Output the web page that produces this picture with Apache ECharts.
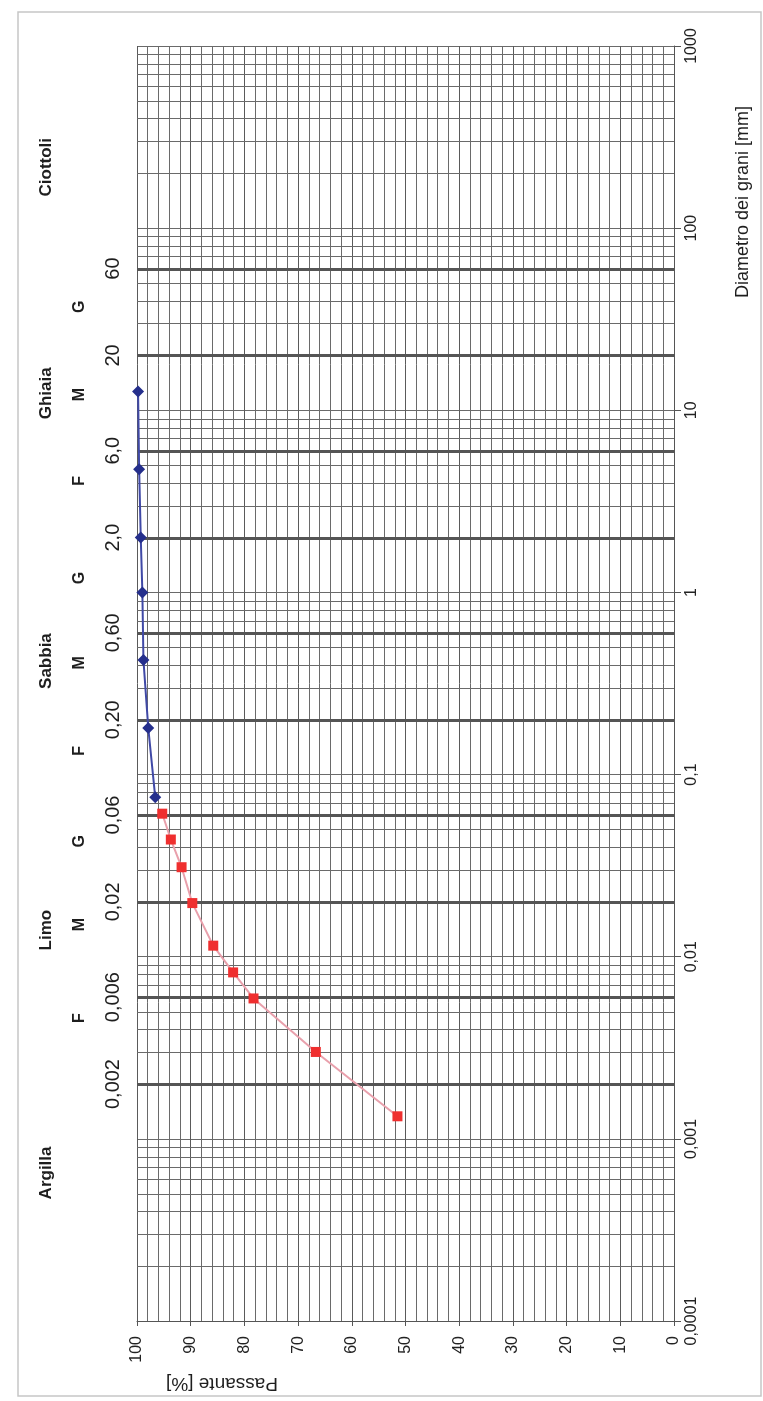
<!DOCTYPE html>
<html>
<head>
<meta charset="utf-8">
<script src="https://cdn.jsdelivr.net/npm/echarts@6/dist/echarts.min.js"></script>
<style>
  html, body { margin: 0; padding: 0; background: #ffffff; }
  #chart { width: 763px; height: 1401px; }
</style>
</head>
<body>
<div id="chart"></div>
<script>
// Curva granulometrica: setacciatura (blu) e sedimentazione (rosso)
const sieveDiam = [12.7, 4.75, 2.0, 1.0, 0.425, 0.18, 0.075];
const sievePass = [99.8, 99.6, 99.3, 99.0, 98.8, 97.9, 96.6];

const hydroDiam = [0.061, 0.044, 0.031, 0.0197, 0.0115, 0.0082, 0.0059, 0.0030, 0.00133];
const hydroPass = [95.3, 93.7, 91.7, 89.7, 85.8, 82.1, 78.3, 66.7, 51.5];

// Limiti delle classi granulometriche (mm) e relative etichette
const boundaryValues = [0.002, 0.006, 0.02, 0.06, 0.2, 0.6, 2, 6, 20, 60];
const boundaryLabels = ['0,002', '0,006', '0,02', '0,06', '0,20', '0,60', '2,0', '6,0', '20', '60'];

// Sottoclassi (Fine / Media / Grossa) con diametro di riferimento
const subLabels = ['F', 'M', 'G', 'F', 'M', 'G', 'F', 'M', 'G'];
const subAnchor = [0.0046, 0.015, 0.043, 0.135, 0.41, 1.2, 4.1, 12.2, 37];

// Classi principali
const classNames = ['Argilla', 'Limo', 'Sabbia', 'Ghiaia', 'Ciottoli'];
const classAnchor = [0.00065, 0.014, 0.42, 12.4, 216];

// Griglia logaritmica secondaria: 2..9 per ogni decade
const minorGrid = [];
for (let k = -4; k <= 2; k++) {
  for (let m = 2; m <= 9; m++) minorGrid.push(Number((m * Math.pow(10, k)).toPrecision(3)));
}

const FONT = "'Liberation Sans', Arial, sans-serif";
const GRID_COLOR = '#6a6a6a';

function fmtNum(v) {
  return String(Number(v.toPrecision(6))).replace('.', ',');
}

function lineItem(api, width, color) {
  const a = api.coord([100, api.value(1)]);
  const b = api.coord([0, api.value(1)]);
  const y = width % 2 ? Math.round(a[1]) + 0.5 : Math.round(a[1]);
  return {
    type: 'line',
    shape: { x1: a[0], y1: y, x2: b[0], y2: y },
    style: { stroke: color, lineWidth: width }
  };
}

function textSeries(labels, anchors, dx, font) {
  return {
    type: 'custom',
    silent: true,
    z: 5,
    clip: false,
    data: anchors.map(v => [100, v]),
    renderItem: function (params, api) {
      const c = api.coord([100, api.value(1)]);
      return {
        type: 'text',
        x: c[0] + dx,
        y: c[1],
        rotation: Math.PI / 2,
        style: {
          text: labels[params.dataIndex],
          font: font,
          fill: '#1e1e1e',
          align: 'center',
          verticalAlign: 'middle'
        }
      };
    }
  };
}

const chart = echarts.init(document.getElementById('chart'), null, { renderer: 'canvas' });

chart.setOption({
  animation: false,
  backgroundColor: '#ffffff',
  grid: { left: 137, right: 89, top: 46, bottom: 80, containLabel: false },
  xAxis: {
    type: 'value',
    min: 0,
    max: 100,
    interval: 10,
    inverse: true,
    position: 'bottom',
    axisLine: { show: true, onZero: false, lineStyle: { color: '#555', width: 1 } },
    axisTick: { show: true, length: 5, lineStyle: { color: '#555' } },
    minorTick: { show: false, splitNumber: 5 },
    minorSplitLine: { show: true, lineStyle: { color: GRID_COLOR, width: 1 } },
    splitLine: { show: true, lineStyle: { color: '#5a5a5a', width: 1 } },
    axisLabel: {
      rotate: 90,
      margin: 15,
      fontFamily: FONT,
      fontSize: 16,
      color: '#222'
    }
  },
  yAxis: {
    type: 'log',
    logBase: 10,
    min: 0.0001,
    max: 1000,
    position: 'right',
    axisLine: { show: true, lineStyle: { color: '#555', width: 1 } },
    axisTick: { show: true, length: 7, lineStyle: { color: '#555' } },
    splitLine: { show: true, lineStyle: { color: GRID_COLOR, width: 1 } },
    axisLabel: {
      rotate: 90,
      margin: 10,
      fontFamily: FONT,
      fontSize: 16,
      color: '#222',
      formatter: fmtNum
    }
  },
  graphic: [
    {
      type: 'rect',
      silent: true,
      shape: { x: 18, y: 12, width: 743, height: 1384 },
      style: { fill: 'none', stroke: '#c6c6c6', lineWidth: 1.5 }
    },
    {
      type: 'text',
      x: 743,
      y: 202,
      rotation: Math.PI / 2,
      style: {
        text: 'Diametro dei grani [mm]',
        font: "18px " + FONT,
        fill: '#1e1e1e',
        align: 'center',
        verticalAlign: 'middle'
      }
    },
    {
      type: 'text',
      x: 222,
      y: 1383,
      rotation: Math.PI,
      style: {
        text: 'Passante [%]',
        font: "19px " + FONT,
        fill: '#1e1e1e',
        align: 'center',
        verticalAlign: 'middle'
      }
    }
  ],
  series: [
    {
      name: 'griglia',
      type: 'custom',
      silent: true,
      z: 1,
      data: minorGrid.map(v => [100, v]),
      renderItem: function (params, api) { return lineItem(api, 1, GRID_COLOR); }
    },
    {
      name: 'limiti',
      type: 'custom',
      silent: true,
      z: 1,
      data: boundaryValues.map(v => [100, v]),
      renderItem: function (params, api) { return lineItem(api, 3, '#555555'); }
    },
    textSeries(boundaryLabels, boundaryValues, -24, "20px " + FONT),
    textSeries(subLabels, subAnchor, -57, "bold 16px " + FONT),
    textSeries(classNames, classAnchor, -91, "bold 17px " + FONT),
    {
      name: 'Setacciatura',
      type: 'line',
      z: 4,
      data: sieveDiam.map((d, i) => [sievePass[i], d]),
      symbol: 'diamond',
      symbolSize: 12,
      itemStyle: { color: '#252f8c' },
      lineStyle: { color: '#4049a6', width: 2 }
    },
    {
      name: 'Sedimentazione',
      type: 'line',
      z: 4,
      data: hydroDiam.map((d, i) => [hydroPass[i], d]),
      symbol: 'rect',
      symbolSize: 10,
      itemStyle: { color: '#ef2f2f' },
      lineStyle: { color: '#e9a0ac', width: 2 }
    }
  ]
});
</script>
</body>
</html>
